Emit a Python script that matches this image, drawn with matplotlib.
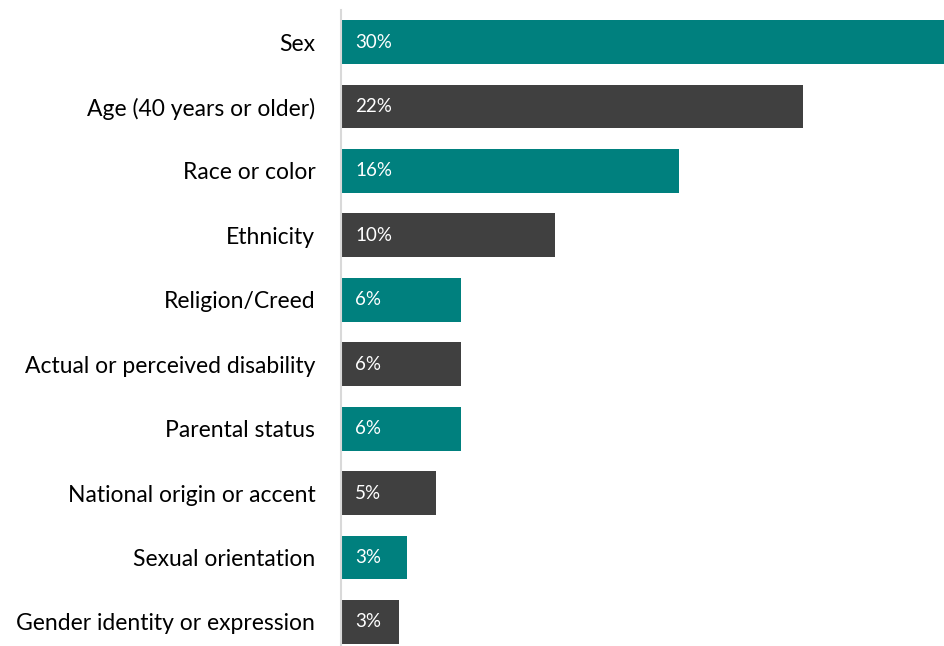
import matplotlib.pyplot as plt

plt.rcParams['font.family'] = ['Lato', 'DejaVu Sans']

categories = ['Sex', 'Age (40 years or older)', 'Race or color', 'Ethnicity',
              'Religion/Creed', 'Actual or perceived disability', 'Parental status',
              'National origin or accent', 'Sexual orientation',
              'Gender identity or expression']
values = [30.4, 22.4, 16.4, 10.4, 5.8, 5.8, 5.8, 4.6, 3.2, 2.8]

teal = '#00807E'
dark = '#404040'
colors = [teal if i % 2 == 0 else dark for i in range(len(values))]

fig = plt.figure(figsize=(9.45, 6.46), dpi=100)
ax = fig.add_axes([341 / 945, -8.2 / 646, 1 - 341 / 945, 644.4 / 646])

y = range(len(categories))
ax.barh(y, values, height=0.68, color=colors, zorder=2)
for yi, v in zip(y, values):
    ax.text(0.68, yi, f'{v:.0f}%', color='white', fontsize=13.5,
            va='center', ha='left', zorder=3)

ax.set_xlim(0, 29.3)
ax.set_ylim(len(categories) - 0.5, -0.5)
ax.set_yticks(list(y))
ax.set_yticklabels(categories, fontsize=16.5)
ax.tick_params(axis='y', length=0, pad=18.5)
ax.set_xticks([])
for s in ['top', 'right', 'bottom']:
    ax.spines[s].set_visible(False)
ax.spines['left'].set_color('#d9d9d9')
ax.spines['left'].set_linewidth(1.5)

fig.savefig('out.png', dpi=100)
